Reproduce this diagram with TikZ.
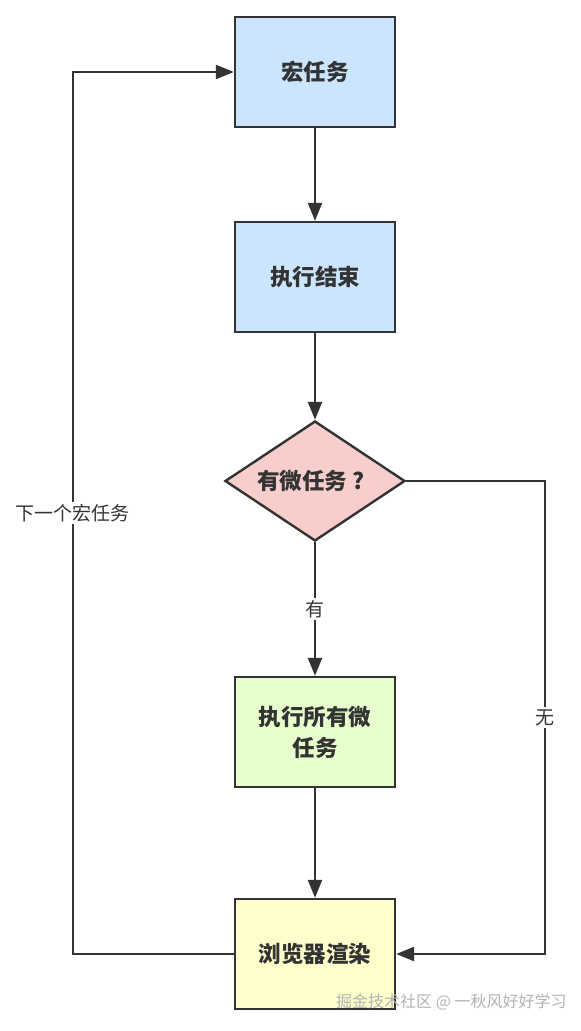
\documentclass[tikz,border=0pt]{standalone}
\usepackage{fontspec}
\setmainfont{Noto Sans CJK SC}
\usetikzlibrary{arrows.meta,shapes.geometric}
\definecolor{edge}{HTML}{333333}
\definecolor{bluef}{HTML}{CCE5FF}
\definecolor{pinkf}{HTML}{F8CECC}
\definecolor{greenf}{HTML}{E6FFCC}
\definecolor{yellowf}{HTML}{FFFFCC}
\tikzset{
  x=1pt,y=-1pt,
  procbox/.style={draw=edge,line width=2.4pt,minimum width=160pt,minimum height=110pt,inner sep=0pt,
    font=\fontsize{22.5}{31}\selectfont\bfseries\color{edge},align=center},
  decision/.style={diamond,draw=edge,line width=2.4pt,fill=pinkf,minimum width=180pt,minimum height=120pt,
    inner sep=0pt,aspect=1.5,font=\fontsize{22.5}{26}\selectfont\bfseries\color{edge}},
  conn/.style={draw=edge,line width=2.4pt,-{Triangle[length=18pt,width=14pt]}},
  lbl/.style={fill=white,inner sep=2pt,font=\fontsize{19}{22}\selectfont\color{edge}}
}
\begin{document}
\begin{tikzpicture}
\useasboundingbox (0,0) rectangle (581,1031);
\node[procbox,fill=bluef] (macro) at (315,72) {宏任务};
\node[procbox,fill=bluef] (done) at (315,277) {执行结束};
\node[decision] (q) at (315,481) {\hspace{-8pt}有微任务\hspace{5pt}?};
\node[procbox,fill=greenf] (micro) at (315,732) {执行所有微\\任务};
\node[procbox,fill=yellowf] (render) at (315,954) {浏览器渲染};
\coordinate (ltop) at (73,72);
\coordinate (lbot) at (73,954);
\coordinate (rtop) at (545,481);
\coordinate (rbot) at (545,954);
\draw[conn] (macro) -- (done);
\draw[conn] (done) -- (q);
\draw[conn] (q) -- node[lbl,pos=0.5] (yes) {有} (micro);
\draw[conn] (micro) -- (render);
\draw[conn] (render.west) -- (lbot) -- node[lbl,pos=0.5] (next) {下一个宏任务} (ltop) -- (macro.west);
\draw[conn] (q.east) -- (rtop) -- node[lbl,pos=0.5] (no) {无} (rbot) -- (render.east);
\node[anchor=west,inner sep=0pt,font=\fontsize{16}{18}\selectfont\color{gray!60}] (wm) at (336,1002) {掘金技术社区 @ 一秋风好好学习};
\end{tikzpicture}
\end{document}
